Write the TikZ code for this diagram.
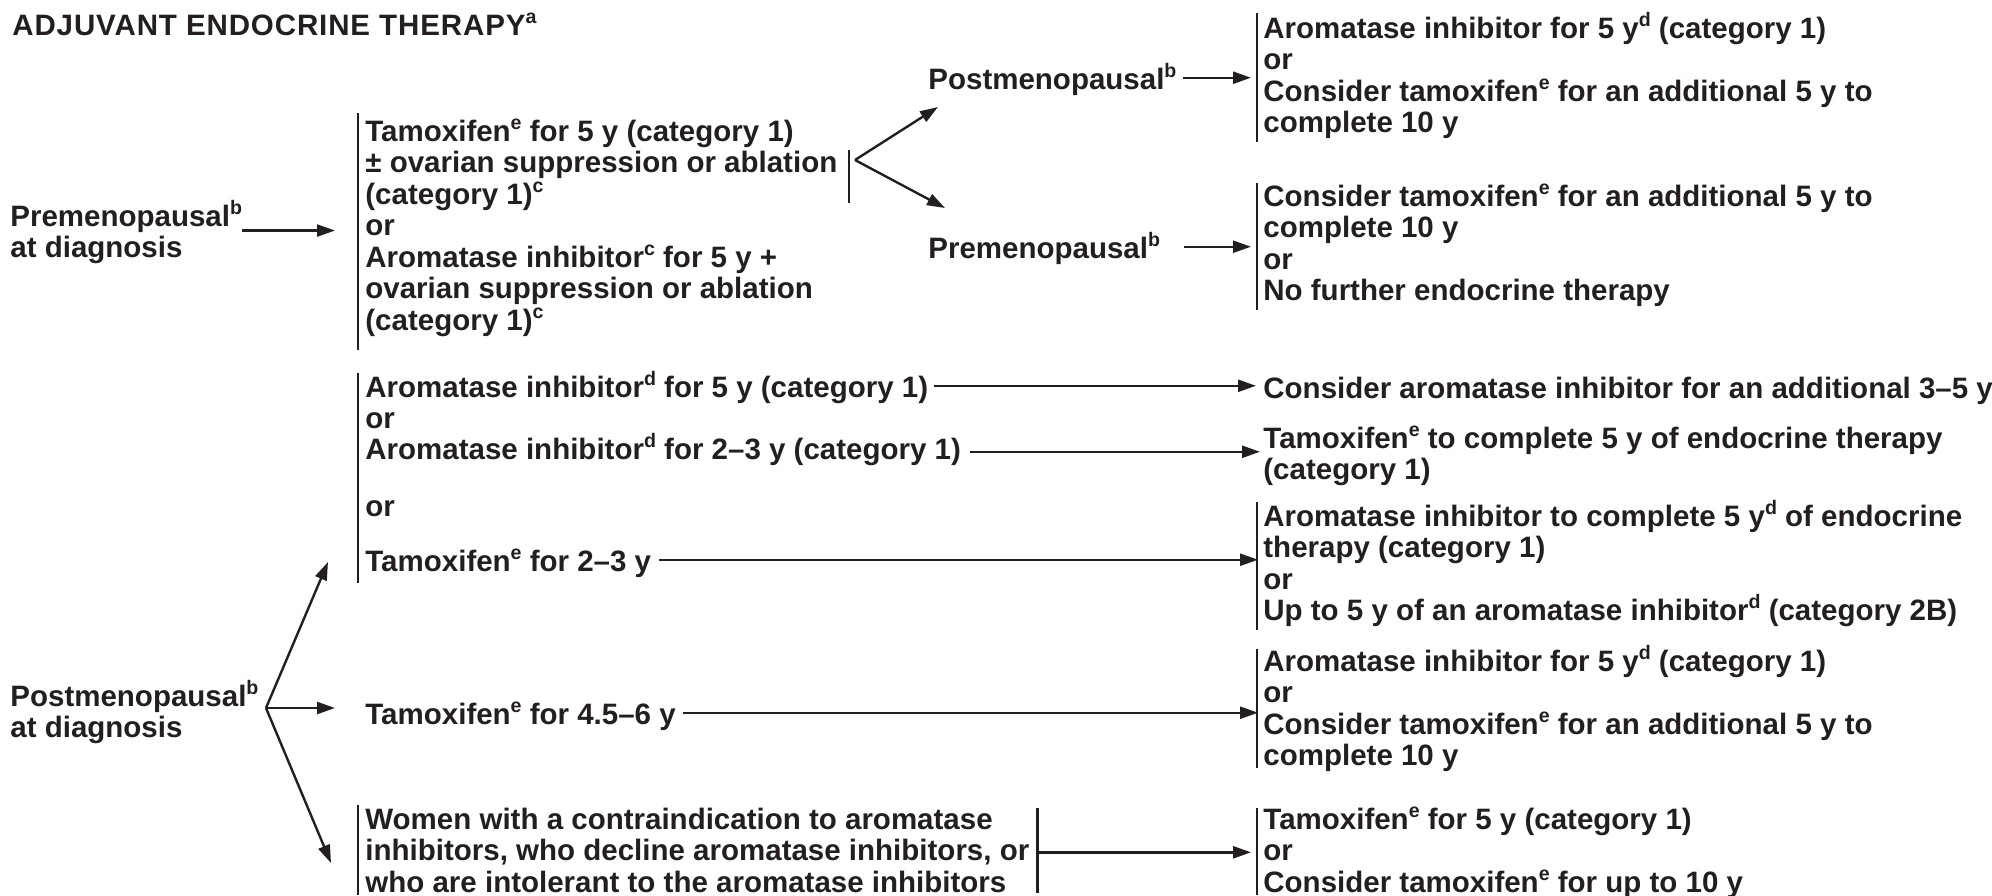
\documentclass[tikz,border=0pt]{standalone}
\usepackage{fontspec}
\setmainfont{Liberation Sans}
\usetikzlibrary{arrows.meta}
\definecolor{ink}{RGB}{35,31,32}
\newcommand\bodyfont{\fontsize{14.75pt}{15.75pt}\selectfont\bfseries}
\newcommand\fst{\rule{0pt}{1em}}
\newcommand\sps[1]{\smash{\raisebox{0.42em}{\fontsize{9.8pt}{10pt}\selectfont #1}}}
\begin{document}
\begin{tikzpicture}[x=0.5pt,y=-0.5pt,
  tx/.style={anchor=north west,inner sep=0pt,align=left,font=\bodyfont,text=ink},
  bar/.style={draw=ink,line width=1.2pt},
  arr/.style={draw=ink,line width=1.2pt,-{Triangle[length=9pt,width=6pt]}}]
\useasboundingbox (0,0) rectangle (1992,895);
\coordinate (R) at (1251,0);
% titles and texts
\node[tx] (title) at (12,5.5) {\fst\addfontfeature{LetterSpace=3}ADJUVANT ENDOCRINE THERAPY\sps{a}};
\node[tx] (predx) at (10,196.5) {\fst Premenopausal\sps{b}\\at diagnosis};
\node[tx] (A) at (365,111.5) {\fst Tamoxifen\sps{e} for 5 y (category 1)\\± ovarian suppression or ablation\\(category 1)\sps{c}\\or\\Aromatase inhibitor\sps{c} for 5 y +\\ovarian suppression or ablation\\(category 1)\sps{c}};
\node[tx] (postA) at (928,59.5) {\fst Postmenopausal\sps{b}};
\node[tx] (preA) at (928,228.5) {\fst Premenopausal\sps{b}};
\node[tx] (rA1) at (1263,8.5) {\fst Aromatase inhibitor for 5 y\sps{d} (category 1)\\or\\Consider tamoxifen\sps{e} for an additional 5 y to\\complete 10 y};
\node[tx] (rA2) at (1263,176.5) {\fst Consider tamoxifen\sps{e} for an additional 5 y to\\complete 10 y\\or\\No further endocrine therapy};
\node[tx] (B1) at (365,367.5) {\fst Aromatase inhibitor\sps{d} for 5 y (category 1)};
\node[tx] (Bor1) at (365,398.5) {\fst or};
\node[tx] (B2) at (365,429.5) {\fst Aromatase inhibitor\sps{d} for 2–3 y (category 1)};
\node[tx] (Bor2) at (365,486.5) {\fst or};
\node[tx] (B3) at (365,541.5) {\fst Tamoxifen\sps{e} for 2–3 y};
\node[tx] (rB1) at (1263,368.5) {\fst Consider aromatase inhibitor for an additional 3–5 y};
\node[tx] (rB2) at (1263,418.5) {\fst Tamoxifen\sps{e} to complete 5 y of endocrine therapy\\(category 1)};
\node[tx] (rB3) at (1263,496.5) {\fst Aromatase inhibitor to complete 5 y\sps{d} of endocrine\\therapy (category 1)\\or\\Up to 5 y of an aromatase inhibitor\sps{d} (category 2B)};
\node[tx] (postdx) at (10,676.5) {\fst Postmenopausal\sps{b}\\at diagnosis};
\node[tx] (C1) at (365,694.5) {\fst Tamoxifen\sps{e} for 4.5–6 y};
\node[tx] (rC1) at (1263,641.5) {\fst Aromatase inhibitor for 5 y\sps{d} (category 1)\\or\\Consider tamoxifen\sps{e} for an additional 5 y to\\complete 10 y};
\node[tx] (women) at (365,799.5) {\fst Women with a contraindication to aromatase\\inhibitors, who decline aromatase inhibitors, or\\who are intolerant to the aromatase inhibitors};
\node[tx] (rC2) at (1263,799.5) {\fst Tamoxifen\sps{e} for 5 y (category 1)\\or\\Consider tamoxifen\sps{e} for up to 10 y};
% bars
\draw[bar] (358,113) -- (358,350);
\draw[bar] (849,150) -- (849,203);
\draw[bar] (1257,13) -- (1257,142);
\draw[bar] (1257,183) -- (1257,310);
\draw[bar] (358,373) -- (358,583);
\draw[bar] (1257,502) -- (1257,630);
\draw[bar] (1257,649) -- (1257,768);
\draw[bar] (358,805) -- (358,895);
\draw[bar] (1257,808) -- (1257,895);
\draw[bar] ([xshift=4pt]women.north east) ++(0,8) -- ([xshift=4pt]women.south east);
% coordinates for branch points
\coordinate (v) at (266,708);
\coordinate (w) at (855,160);
% arrows
\draw[arr] (predx.east) -- (predx.east -| 335,0);
\draw[arr] (w) -- (938,107);
\draw[arr] (w) -- (945,208);
\draw[arr] ([xshift=3pt]postA.east) -- (postA.east -| R);
\draw[arr] ([xshift=12pt]preA.east) -- (preA.east -| R);
\draw[arr] ([xshift=2.5pt]B1.east) -- ([xshift=2.5pt]B1.east -| R);
\draw[arr] ([xshift=4.5pt,yshift=-2pt]B2.east) -- ([xshift=4.5pt,yshift=-2pt]B2.east -| R);
\draw[arr] ([xshift=3.5pt]B3.east) -- ([xshift=3.5pt]B3.east -| R);
\draw[arr] (v) -- (328,562);
\draw[arr] (v) -- (v -| 335,0);
\draw[arr] (v) -- (331,863);
\draw[arr] ([xshift=3.5pt]C1.east) -- ([xshift=3.5pt]C1.east -| R);
\draw[arr] ([xshift=4pt,yshift=-3pt]women.east) -- ([yshift=-3pt]women.east -| R);
\end{tikzpicture}
\end{document}
